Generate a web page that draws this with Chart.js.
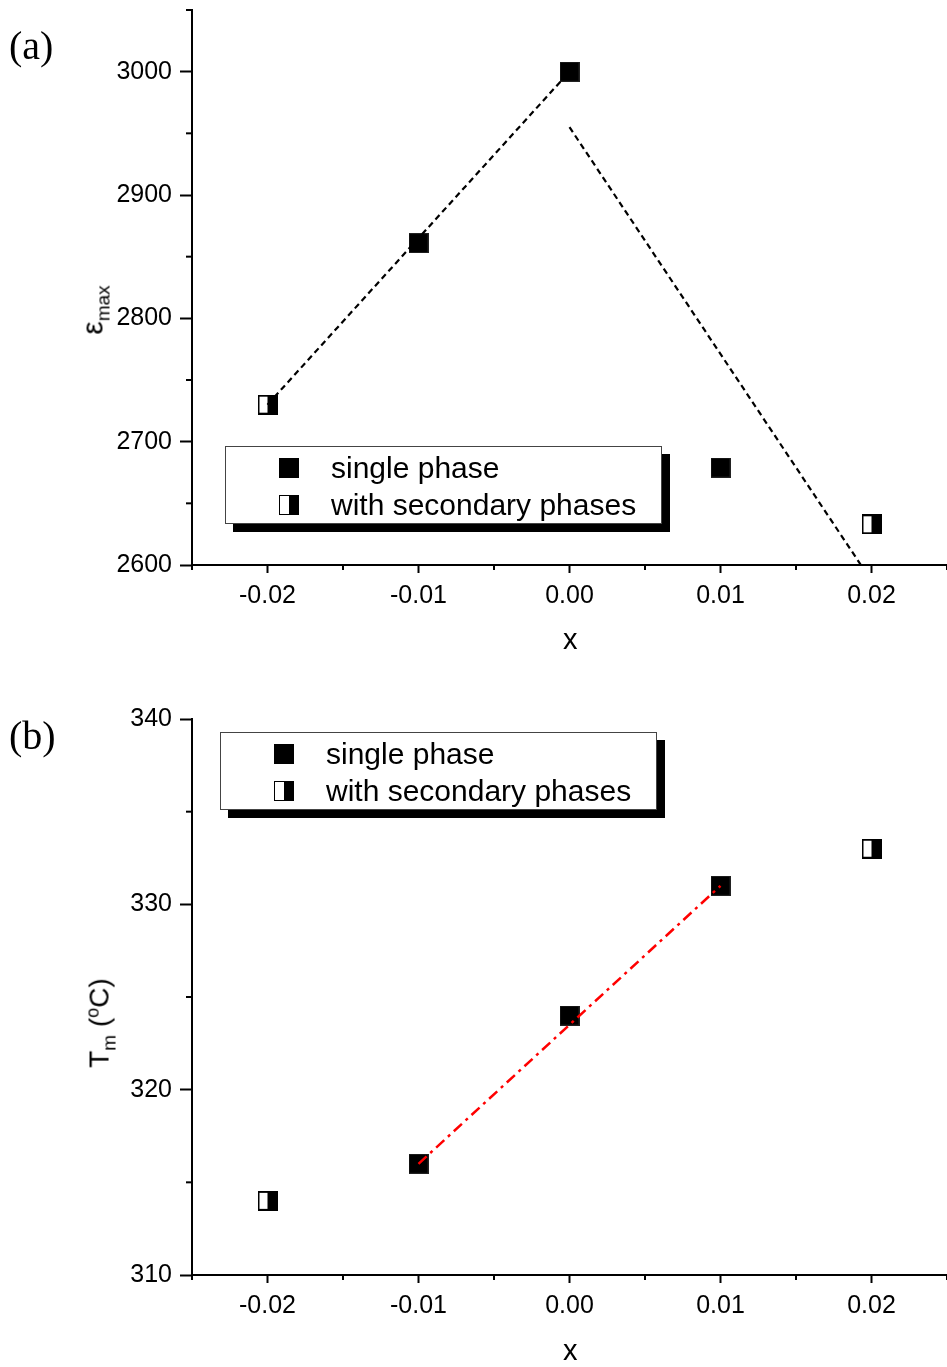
<!DOCTYPE html>
<html>
<head>
<meta charset="utf-8">
<script src="https://cdn.jsdelivr.net/npm/chart.js@4.4.1/dist/chart.umd.min.js"></script>
<style>
  body { margin: 0; background: #fff; font-family: "Liberation Sans", Arial, sans-serif; overflow: hidden; }
  #page { position: relative; width: 947px; height: 1367px; overflow: hidden; }
  .box { position: absolute; left: 0; width: 947px; }
  .box canvas { display: block; }
  .panel-label { position: absolute; font-family: "Liberation Serif", "Times New Roman", serif; font-size: 40px; line-height: 1; }
  .title { position: absolute; font-size: 29px; line-height: 1; white-space: nowrap; }
  .ytitle { transform-origin: center center; transform: translate(-50%, -50%) rotate(-90deg); }
  .legend { position: absolute; width: 437px; height: 78px; border: 1px solid #444; background: #fff; box-shadow: 8px 8px 0 #000; box-sizing: border-box; }
  .legend .row { position: absolute; left: 0; height: 30px; font-size: 30px; line-height: 30px; white-space: nowrap; }
  .mk { position: absolute; width: 20px; height: 20px; box-sizing: border-box; top: 5px; }
  .mk.full { background: #000; }
  .mk.half { border: 1.5px solid #000; background: linear-gradient(to right, #fff 50%, #000 50%); }
</style>
</head>
<body>
<div id="page">
  <div class="box" style="top:0;height:680px"><canvas id="chartA" width="947" height="680"></canvas></div>
  <div class="box" style="top:680px;height:687px"><canvas id="chartB" width="947" height="687"></canvas></div>

  <div class="panel-label" style="left:9px;top:26px">(a)</div>
  <div class="panel-label" style="left:9px;top:716px">(b)</div>

  <div class="title" style="left:563px;top:625px">x</div>
  <div class="title" style="left:563px;top:1336px">x</div>
  <div class="title ytitle" style="left:95px;top:310px;font-size:30px">&epsilon;<sub style="font-size:19px">max</sub></div>
  <div class="title ytitle" style="left:101px;top:1023px;font-size:28px">T<sub style="font-size:19px">m</sub> (<sup style="font-size:18px">o</sup>C)</div>

  <div class="legend" style="left:225px;top:446px">
    <div class="row" style="top:6px"><div class="mk full" style="left:53px"></div><span style="position:absolute;left:105px">single phase</span></div>
    <div class="row" style="top:43px"><div class="mk half" style="left:53px"></div><span style="position:absolute;left:105px">with secondary phases</span></div>
  </div>
  <div class="legend" style="left:220px;top:732px">
    <div class="row" style="top:6px"><div class="mk full" style="left:53px"></div><span style="position:absolute;left:105px">single phase</span></div>
    <div class="row" style="top:43px"><div class="mk half" style="left:53px"></div><span style="position:absolute;left:105px">with secondary phases</span></div>
  </div>
</div>

<script>
// data
const xSingle = [-0.01, 0.00, 0.01];
const xSecondary = [-0.02, 0.02];

const epsSingle = [2861, 3000, 2679];
const epsSecondary = [2730, 2633];
const epsFitLeftX = [-0.02, 0.00];
const epsFitLeftY = [2730, 3000];
const epsFitRightX = [0.00, 0.0193];
const epsFitRightY = [2955, 2600];

const tmSingle = [316, 324, 331];
const tmSecondary = [314, 333];
const tmFitX = [-0.01, 0.01];
const tmFitY = [316, 331];

// axes
const xTicks = [-0.02, -0.01, 0.00, 0.01, 0.02];
const xTickLabels = ['-0.02', '-0.01', '0.00', '0.01', '0.02'];
const xMinor = [-0.025, -0.015, -0.005, 0.005, 0.015, 0.025];
const epsTicks = [2600, 2700, 2800, 2900, 3000];
const epsMinor = [2650, 2750, 2850, 2950, 3050];
const tmTicks = [310, 320, 330, 340];
const tmMinor = [315, 325, 335];

const FONT = '"Liberation Sans", Arial, sans-serif';

function pts(xs, ys) {
  return xs.map((x, i) => ({ x: x, y: ys[i] }));
}

// square markers as small canvases
function makeMarker(half) {
  const c = document.createElement('canvas');
  c.width = 20; c.height = 20;
  const g = c.getContext('2d');
  if (half) {
    g.fillStyle = '#000';
    g.fillRect(0, 0, 20, 20);
    g.fillStyle = '#fff';
    g.fillRect(2, 2, 8, 16);
  } else {
    g.fillStyle = '#222';
    g.fillRect(0, 0, 20, 20);
    g.fillStyle = '#000';
    g.fillRect(1, 1, 18, 18);
  }
  return c;
}
const fullMarker = makeMarker(false);
const halfMarker = makeMarker(true);

// short minor ticks, drawn through the scales
const minorTicks = {
  id: 'minorTicks',
  afterDraw(chart, args, opts) {
    const ctx = chart.ctx;
    const x = chart.scales.x, y = chart.scales.y;
    ctx.save();
    ctx.strokeStyle = '#000';
    ctx.lineWidth = 2;
    opts.x.forEach(v => {
      const px = x.getPixelForValue(v);
      ctx.beginPath(); ctx.moveTo(px, x.top); ctx.lineTo(px, x.top + 5); ctx.stroke();
    });
    opts.y.forEach(v => {
      const py = y.getPixelForValue(v);
      ctx.beginPath(); ctx.moveTo(y.right, py); ctx.lineTo(y.right - 6, py); ctx.stroke();
    });
    ctx.restore();
  }
};

function makeChart(id, cfg) {
  return new Chart(document.getElementById(id), {
    type: 'scatter',
    data: { datasets: cfg.datasets },
    options: {
      responsive: false,
      animation: false,
      layout: { autoPadding: false, padding: { top: cfg.top, left: 0, right: 0, bottom: 0 } },
      plugins: {
        legend: { display: false },
        tooltip: { enabled: false },
        minorTicks: { x: xMinor, y: cfg.yMinor }
      },
      scales: {
        x: {
          min: -0.025, max: 0.025,
          afterBuildTicks: s => { s.ticks = xTicks.map(v => ({ value: v })); },
          afterFit: s => { s.height = cfg.xHeight; s.paddingLeft = 0; s.paddingRight = 0; },
          grid: { drawOnChartArea: false, tickLength: 8, tickWidth: 2, tickColor: '#000' },
          border: { color: '#000', width: 2 },
          ticks: {
            color: '#000', padding: 8, maxRotation: 0,
            font: { family: FONT, size: 25 },
            callback: (v, i) => xTickLabels[i]
          }
        },
        y: {
          min: cfg.yMin, max: cfg.yMax,
          afterBuildTicks: s => { s.ticks = cfg.yTicks.map(v => ({ value: v })); },
          afterFit: s => { s.width = 192; s.paddingTop = 0; s.paddingBottom = 0; },
          grid: { drawOnChartArea: false, tickLength: 12, tickWidth: 2, tickColor: '#000' },
          border: { color: '#000', width: 2 },
          ticks: {
            color: '#000', padding: 8,
            font: { family: FONT, size: 25 },
            callback: v => String(v)
          }
        }
      }
    },
    plugins: [minorTicks]
  });
}

makeChart('chartA', {
  top: 10, xHeight: 115,
  yMin: 2600, yMax: 3050, yTicks: epsTicks, yMinor: epsMinor,
  datasets: [
    { data: pts(epsFitLeftX, epsFitLeftY), showLine: true, borderColor: '#000', borderWidth: 2.2, borderDash: [6, 4], pointRadius: 0 },
    { data: pts(epsFitRightX, epsFitRightY), showLine: true, borderColor: '#000', borderWidth: 2.2, borderDash: [6, 4], pointRadius: 0 },
    { data: pts(xSingle, epsSingle), pointStyle: fullMarker, pointRadius: 10 },
    { data: pts(xSecondary, epsSecondary), pointStyle: halfMarker, pointRadius: 10 }
  ]
});

makeChart('chartB', {
  top: 39, xHeight: 92,
  yMin: 310, yMax: 340, yTicks: tmTicks, yMinor: tmMinor,
  datasets: [
    { data: pts(tmFitX, tmFitY), showLine: true, borderColor: '#ff0000', borderWidth: 2.5, borderDash: [11, 5, 3, 5], pointRadius: 0 },
    { data: pts(xSingle, tmSingle), pointStyle: fullMarker, pointRadius: 10 },
    { data: pts(xSecondary, tmSecondary), pointStyle: halfMarker, pointRadius: 10 }
  ]
});
</script>
</body>
</html>
